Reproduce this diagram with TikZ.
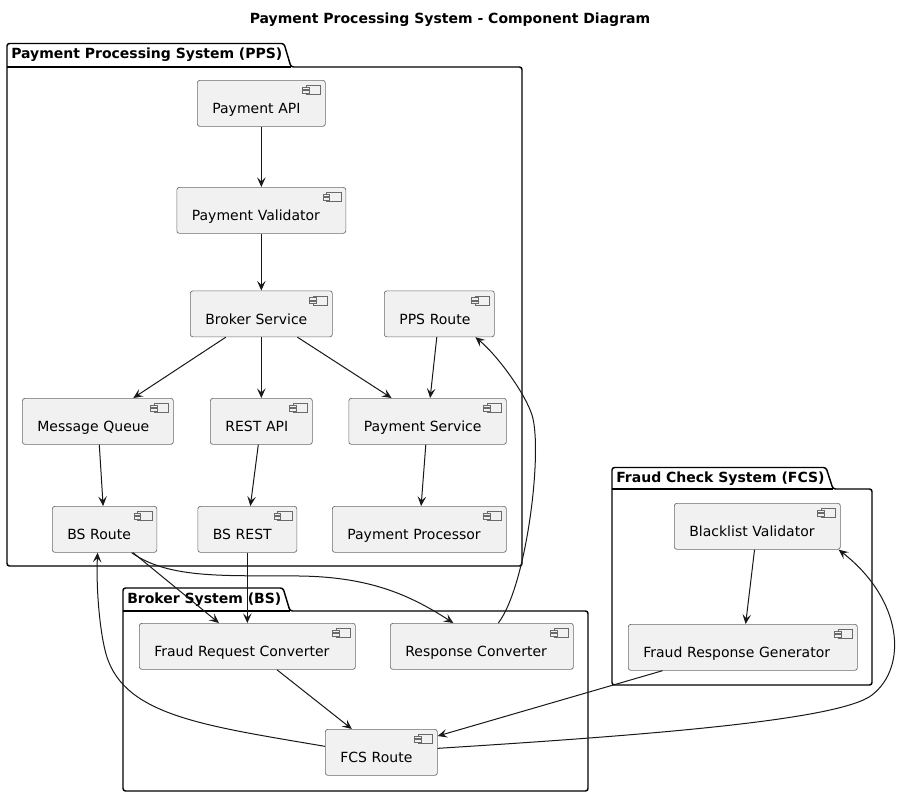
\documentclass[tikz,border=0pt]{standalone}
\usepackage{fontspec}
\setmainfont{DejaVu Sans}
\usetikzlibrary{arrows.meta,calc}
\definecolor{compfill}{HTML}{F1F1F1}
\definecolor{ln}{HTML}{181818}
\definecolor{bord}{HTML}{6A6A6A}
\tikzset{
  compnode/.style={draw=bord, fill=compfill, line width=0.5pt, rounded corners=1.9pt,
    inner xsep=11.25pt, inner ysep=0pt, text height=25pt, text depth=9.5pt,
    align=left, font=\fontsize{10.5}{12}\selectfont, anchor=north west},
  compicon/.style={draw=bord, line width=0.35pt, fill=compfill},
  pkgline/.style={draw=black, line width=1.1pt, rounded corners=1.9pt},
  pkglabel/.style={anchor=base west, inner sep=0pt, font=\fontsize{10.5}{12}\selectfont\bfseries},
  arr/.style={draw=ln, line width=0.75pt, -{Stealth[length=7.2pt,width=6.4pt,inset=3pt]}},
}
\newcommand{\compbox}[5]{%
  \pgfmathsetmacro{\cw}{(#4-#2-30)*0.75}%
  \node[compnode, text width=\cw pt] (#1) at (#2,#3) {#5};
  \draw[compicon] (#4-19,#3+5.5) rectangle (#4-4.5,#3+14.7);
  \draw[compicon] (#4-22.5,#3+7.2) rectangle (#4-16,#3+9.6);
  \draw[compicon] (#4-22.5,#3+10.6) rectangle (#4-16,#3+13);
}
\newcommand{\pkgbox}[7]{% left, tabtop, bodytop, tabend, right, bottom, label
  \draw[pkgline] (#1,#6) -- (#1,#2) -- (#4-7,#2) -- (#4,#3) -- (#5,#3) -- (#5,#6) -- cycle;
  \draw[pkgline] (#1,#3) -- (#4,#3);
  \node[pkglabel] at (#1+4,#2+15) {#7};
}
\begin{document}
\begin{tikzpicture}[x=0.75pt,y=-0.75pt]
\useasboundingbox[fill=white] (0,0) rectangle (913,797);

\node[anchor=base, inner sep=0pt, font=\fontsize{10.5}{12}\selectfont\bfseries] (title) at (450,23) {Payment Processing System - Component Diagram};

\pkgbox{7}{43.5}{67}{291}{522}{566}{Payment Processing System (PPS)}
\pkgbox{123}{588}{611}{290}{588}{791}{Broker System (BS)}
\pkgbox{612}{467.5}{489}{833}{872}{685}{Fraud Check System (FCS)}

\compbox{api}{197}{80}{325}{Payment API}
\compbox{val}{176.5}{187}{345.5}{Payment Validator}
\compbox{brk}{190}{290.5}{332}{Broker Service}
\compbox{ppsr}{384}{290.5}{494}{PPS Route}
\compbox{mq}{22}{398}{173}{Message Queue}
\compbox{rest}{210}{398}{312}{REST API}
\compbox{ps}{348.5}{398}{506}{Payment Service}
\compbox{bsr}{52}{506}{156.5}{BS Route}
\compbox{bsrest}{197.5}{506}{296.5}{BS REST}
\compbox{pp}{332}{506}{506}{Payment Processor}
\compbox{frc}{139}{623}{355}{Fraud Request Converter}
\compbox{rc}{390}{623}{573}{Response Converter}
\compbox{fcs}{325}{729}{437}{FCS Route}
\compbox{blv}{674}{503}{840}{Blacklist Validator}
\compbox{frg}{628}{624}{857}{Fraud Response Generator}

\draw[arr] (api) -- (val);
\draw[arr] (val) -- (brk);
\draw[arr] (brk) -- (mq);
\draw[arr] (brk) -- (rest);
\draw[arr] (brk) -- (ps);
\draw[arr] (ppsr) -- (ps);
\draw[arr] (mq) -- (bsr);
\draw[arr] (rest) -- (bsrest);
\draw[arr] (ps) -- (pp);
\draw[arr] (bsr) -- (frc);
\draw[arr] (bsrest) -- (frc);
\draw[arr] (frc) -- (fcs);
\draw[arr] (frg) -- (fcs);
\draw[arr] (blv) -- (frg);

\draw[arr] ($(bsr.south)+(27,0)$) .. controls (170,580) and (230,575) .. (300,576)
  .. controls (370,577) and (410,595) .. ($(rc.north)+(-28.5,0)$);
\draw[arr] ($(rc.north)+(16.5,0)$) .. controls (527,585) and (543,450) .. (532,415)
  .. controls (525,393) and (497,355) .. ($(ppsr.south)+(36,0)$);
\draw[arr] ($(fcs.west)+(0,-6)$) .. controls (200,725) and (120,715) .. (105,650)
  .. controls (100,630) and (96,590) .. ($(bsr.south)+(-7,0)$);
\draw[arr] ($(fcs.east)+(0,-4)$) .. controls (650,735) and (840,720) .. (872,695)
  .. controls (908,667) and (903,600) .. ($(blv.south east)+(-2,0)$);
\end{tikzpicture}
\end{document}
